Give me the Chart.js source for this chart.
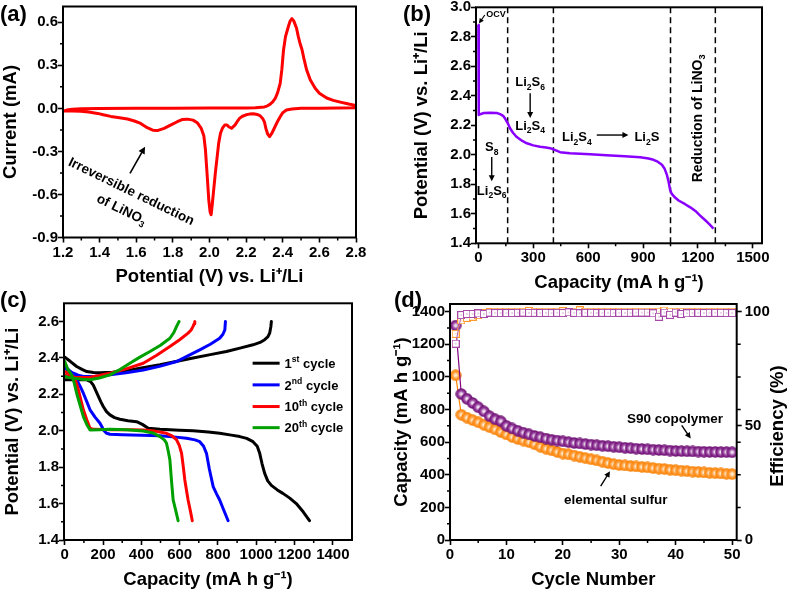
<!DOCTYPE html>
<html><head><meta charset="utf-8">
<script src="https://cdn.jsdelivr.net/npm/chart.js@4.4.1/dist/chart.umd.min.js"></script>
<style>
html,body{margin:0;padding:0;background:#fff;}
#wrap{position:relative;width:787px;height:592px;overflow:hidden;background:#fff;}
#wrap canvas{position:absolute;left:0;top:0;}
</style></head><body>
<div id="wrap">
<canvas id="ca" width="787" height="592"></canvas>
<canvas id="cb" width="787" height="592"></canvas>
<canvas id="cc" width="787" height="592"></canvas>
<canvas id="cd" width="787" height="592"></canvas>
</div>
<script>
// ---------- (a) cyclic voltammogram ----------
const cvPotential = [2.80,2.70,2.60,2.50,2.45,2.42,2.40,2.386,2.37,2.355,2.34,2.328,2.318,2.308,2.30,2.29,2.275,2.26,2.24,2.218,2.20,2.18,2.165,2.155,2.14,2.12,2.105,2.096,2.083,2.07,2.06,2.05,2.042,2.032,2.023,2.015,2.009,2.003,1.996,1.988,1.978,1.969,1.955,1.933,1.91,1.879,1.85,1.824,1.79,1.752,1.715,1.69,1.66,1.624,1.59,1.552,1.50,1.461,1.42,1.389,1.34,1.298,1.25,1.207,
  1.20,1.22,1.25,1.30,1.40,1.60,1.80,2.00,2.20,2.25,2.30,2.314,2.33,2.345,2.359,2.372,2.386,2.395,2.404,2.415,2.43,2.44,2.45,2.46,2.475,2.485,2.495,2.505,2.515,2.53,2.55,2.577,2.60,2.64,2.676,2.72,2.76,2.80];
const cvCurrent = [0.005,0.002,0.000,0.000,-0.004,-0.012,-0.03,-0.058,-0.095,-0.135,-0.175,-0.197,-0.18,-0.14,-0.095,-0.07,-0.05,-0.042,-0.038,-0.04,-0.045,-0.055,-0.068,-0.085,-0.115,-0.139,-0.128,-0.116,-0.116,-0.14,-0.174,-0.244,-0.336,-0.45,-0.567,-0.67,-0.741,-0.72,-0.637,-0.48,-0.29,-0.19,-0.14,-0.1,-0.082,-0.075,-0.078,-0.093,-0.115,-0.139,-0.155,-0.152,-0.135,-0.105,-0.088,-0.074,-0.064,-0.056,-0.045,-0.035,-0.026,-0.02,-0.018,-0.019,
  -0.02,-0.012,-0.006,-0.003,-0.001,0.000,0.001,0.002,0.003,0.005,0.01,0.016,0.028,0.045,0.069,0.11,0.174,0.27,0.405,0.5,0.567,0.608,0.625,0.61,0.56,0.5,0.45,0.41,0.35,0.27,0.2,0.14,0.105,0.072,0.056,0.042,0.03,0.02];
const aTicksX = [1.2,1.4,1.6,1.8,2.0,2.2,2.4,2.6,2.8];
const aTicksY = [-0.9,-0.6,-0.3,0.0,0.3,0.6];
const aMinorX = [1.3,1.5,1.7,1.9,2.1,2.3,2.5,2.7];
const aMinorY = [-0.75,-0.45,-0.15,0.15,0.45];

// ---------- (b) first discharge ----------
const bCapacity = [0,1,3,10,30,64,100,119,135,146,160,173,190,210,240,265,300,337,370,392,420,447,500,611,700,800,884,930,957,980,1003,1018,1030,1039,1048,1057,1075,1094,1130,1158,1190,1212,1240,1262,1285];
const bPotential = [2.88,2.50,2.27,2.275,2.283,2.285,2.283,2.276,2.264,2.246,2.215,2.18,2.148,2.12,2.094,2.078,2.064,2.055,2.05,2.045,2.032,2.018,2.01,2.003,1.997,1.99,1.984,1.975,1.966,1.953,1.932,1.905,1.865,1.82,1.762,1.735,1.71,1.69,1.665,1.644,1.615,1.588,1.556,1.53,1.50];
const bDivisions = [160,410,1050,1295];
const bTicksX = [0,300,600,900,1200,1500];
const bTicksY = [1.4,1.6,1.8,2.0,2.2,2.4,2.6,2.8,3.0];
const bMinorX = [150,450,750,1050,1350];
const bMinorY = [1.5,1.7,1.9,2.1,2.3,2.5,2.7,2.9];

// ---------- (c) charge / discharge profiles ----------
const c1DisCap = [0,20,60,115,135,149,162,175,188,201,218,236,260,288,330,375,405,436,497,600,670,750,809,870,914,950,983,1005,1018,1030,1044,1060,1079,1110,1139,1175,1209,1245,1278];
const c1DisV   = [2.28,2.28,2.282,2.28,2.27,2.25,2.22,2.19,2.16,2.133,2.105,2.087,2.072,2.063,2.055,2.05,2.035,2.014,2.008,2.003,2.0,1.993,1.986,1.976,1.968,1.958,1.94,1.915,1.876,1.82,1.766,1.725,1.70,1.675,1.656,1.63,1.60,1.555,1.506];
const c1ChgCap = [0,30,62,90,115,150,184,250,323,400,497,580,670,760,844,920,983,1020,1044,1060,1070,1076,1079];
const c1ChgV   = [2.404,2.38,2.353,2.337,2.325,2.32,2.318,2.322,2.33,2.345,2.362,2.38,2.40,2.418,2.435,2.455,2.472,2.485,2.50,2.515,2.536,2.57,2.6];
const c2DisCap = [0,20,45,62,80,97,115,132,158,184,205,219,236,300,400,497,580,636,680,705,725,740,755,775,792,809,830,853];
const c2DisV   = [2.35,2.335,2.31,2.28,2.245,2.206,2.16,2.115,2.075,2.041,2.0,1.986,1.981,1.978,1.975,1.972,1.965,1.959,1.95,1.94,1.915,1.876,1.79,1.693,1.655,1.62,1.565,1.506];
const c2ChgCap = [0,20,45,70,97,150,236,320,410,500,584,640,705,760,809,826,836,839];
const c2ChgV   = [2.343,2.33,2.316,2.305,2.298,2.298,2.307,2.318,2.334,2.355,2.38,2.41,2.444,2.475,2.508,2.53,2.554,2.6];
const c10DisCap = [0,20,45,58,71,84,97,115,132,149,250,350,410,470,531,560,584,598,610,618,627,636,644,655,666];
const c10DisV   = [2.325,2.315,2.298,2.27,2.225,2.17,2.115,2.06,2.014,2.008,2.006,2.005,2.004,1.998,1.986,1.972,1.95,1.92,1.876,1.81,1.73,1.67,1.62,1.565,1.506];
const c10ChgCap = [0,20,45,90,132,180,236,320,410,480,549,600,644,660,670,676,679];
const c10ChgV   = [2.307,2.3,2.294,2.292,2.294,2.303,2.316,2.34,2.371,2.415,2.463,2.5,2.536,2.553,2.573,2.588,2.6];
const c20DisCap = [0,15,36,50,62,80,97,115,132,180,236,320,410,460,497,520,531,540,549,557,566,580,592];
const c20DisV   = [2.38,2.34,2.307,2.26,2.206,2.14,2.078,2.035,2.004,2.006,2.008,2.005,1.999,1.988,1.968,1.95,1.932,1.89,1.84,1.73,1.62,1.56,1.506];
const c20ChgCap = [0,20,45,90,132,180,236,290,340,390,445,500,549,570,584,592,597];
const c20ChgV   = [2.298,2.293,2.289,2.283,2.28,2.29,2.307,2.338,2.371,2.403,2.435,2.47,2.508,2.54,2.573,2.59,2.6];
const cTicksX = [0,200,400,600,800,1000,1200,1400];
const cTicksY = [1.4,1.6,1.8,2.0,2.2,2.4,2.6];
const cMinorX = [100,300,500,700,900,1100,1300];
const cMinorY = [1.5,1.7,1.9,2.1,2.3,2.5];
const cLegend = ['1st cycle','2nd cycle','10th cycle','20th cycle'];

// ---------- (d) cycling ----------
const cycles = [1,2,3,4,5,6,7,8,9,10,11,12,13,14,15,16,17,18,19,20,21,22,23,24,25,26,27,28,29,30,31,32,33,34,35,36,37,38,39,40,41,42,43,44,45,46,47,48,49,50];
const s90Capacity = [1315,895,866,840,814,789,759,740,728,700,684,670,658,648,638,630,622,615,610,605,600,595,592,588,585,581,578,575,572,569,566,563,560,558,556,554,552,550,548,546,545,544,543,542,541,540,540,539,539,538];
const sulfurCapacity = [1010,768,750,735,722,707,692,678,662,647,632,620,610,600,587,572,560,550,540,530,525,518,510,502,495,488,480,472,465,460,457,454,451,448,445,441,438,435,431,428,425,422,419,417,414,412,410,408,406,404];
const s90Efficiency = [86,98.5,99,99,99.2,99,99.6,99.4,99.4,99.4,99.4,99.5,99.6,99.5,99.5,99.4,99.5,99.4,99.5,99.4,99.7,99.5,99.3,99.5,99.5,99.4,99.5,99.5,99.4,99.5,99.5,99.5,99.6,99.6,99.6,99.3,97.8,99.6,98.6,99.6,99.0,99.3,99.4,99.5,99.4,99.5,99.5,99.5,99.4,99.4];
const sulfurEfficiency = [90.3,96.2,97.3,97.8,98.5,99.2,99.8,100,100,100,100,100,100,100.3,100,100,100,100,100,100.2,100,100,100.6,100,100,100,100,100,100,100,100,100,100,100,100,100,100,100.5,100,100,100,100,100,100,100,100,100,100,100,100];
const dTicksX = [0,10,20,30,40,50];
const dTicksY = [0,200,400,600,800,1000,1200,1400];
const dTicksY1 = [0,50,100];
const dMinorX = [5,15,25,35,45];
const dMinorY = [100,300,500,700,900,1100,1300];

// ---------- helpers ----------
const FAM = "'Liberation Sans', Arial, Helvetica, sans-serif";
const TICK = 15, TITLE = 18.5;
Chart.defaults.font.family = FAM;
Chart.defaults.font.weight = 'bold';
Chart.defaults.color = '#000';
Chart.defaults.animation = false;
Chart.defaults.plugins.legend.display = false;
Chart.defaults.plugins.tooltip.enabled = false;
Chart.defaults.elements.point.radius = 0;

function pts(xs, ys){ return xs.map((x,i)=>({x:x, y:ys[i]})); }

function mkAxis(o){
  return {
    type:'linear', position:o.pos, min:o.min, max:o.max,
    afterBuildTicks: s => { s.ticks = o.ticks.map(v=>({value:v})); },
    afterFit: s => {
      if (o.pos==='bottom'){ s.height=o.size; s.paddingLeft=0; s.paddingRight=0; }
      else { s.width=o.size; s.paddingTop=0; s.paddingBottom=0; }
    },
    grid:{display:true, drawOnChartArea:false, drawTicks:true, tickLength:5, tickWidth:1.6, tickColor:'#000', color:'#000'},
    border:{display:false},
    ticks:{color:'#000', font:{size:TICK, weight:'bold'}, padding:(o.pad===undefined?1:o.pad), autoSkip:false, maxRotation:0, minRotation:0, callback:o.fmt},
    title:{display:o.title!==null, text:o.title||'', color:'#000', font:{size:TITLE, weight:'bold'}, padding:0}
  };
}
const f1 = v => v.toFixed(1);
const f0 = v => String(Math.round(v));

function rich(ctx, parts, x, y, size, opts){
  opts = opts || {};
  let total = 0; const meas = [];
  for (const p of parts){
    const t = p[0], m = p[1] || 'n';
    const fs = m==='n' ? size : size*0.66;
    ctx.font = `bold ${fs}px ${FAM}`;
    const w = ctx.measureText(t).width;
    meas.push([t,m,fs,w]); total += w;
  }
  ctx.save();
  ctx.translate(x,y);
  if (opts.rot) ctx.rotate(opts.rot);
  ctx.fillStyle = opts.color || '#000';
  ctx.textBaseline = 'alphabetic'; ctx.textAlign = 'left';
  let cx = opts.align==='left' ? 0 : -total/2;
  const base = size*0.36;
  for (const [t,m,fs,w] of meas){
    ctx.font = `bold ${fs}px ${FAM}`;
    const dy = m==='sub' ? size*0.25 : (m==='sup' ? -size*0.42 : 0);
    ctx.fillText(t, cx, base+dy);
    cx += w;
  }
  ctx.restore();
}
function arrow(ctx,x1,y1,x2,y2,hl,hw,lw){
  hl = hl||7; hw = hw||3.5; lw = lw||1.5;
  const a = Math.atan2(y2-y1,x2-x1), c=Math.cos(a), s=Math.sin(a);
  ctx.save(); ctx.strokeStyle='#000'; ctx.fillStyle='#000'; ctx.lineWidth=lw;
  ctx.beginPath(); ctx.moveTo(x1,y1); ctx.lineTo(x2-hl*0.8*c, y2-hl*0.8*s); ctx.stroke();
  ctx.beginPath(); ctx.moveTo(x2,y2);
  ctx.lineTo(x2-hl*c+hw*s, y2-hl*s-hw*c);
  ctx.lineTo(x2-hl*c-hw*s, y2-hl*s+hw*c);
  ctx.closePath(); ctx.fill(); ctx.restore();
}
function framePlugin(minors, letter){
  return {id:'frame', afterDraw(chart){
    const ctx = chart.ctx, a = chart.chartArea;
    ctx.save();
    ctx.strokeStyle='#000'; ctx.lineWidth=2;
    ctx.strokeRect(a.left, a.top, a.right-a.left, a.bottom-a.top);
    ctx.lineWidth=1.5; ctx.beginPath();
    for (const m of minors){
      const s = chart.scales[m.id];
      for (const v of m.vals){
        const p = s.getPixelForValue(v);
        if (m.side==='bottom'){ ctx.moveTo(p,a.bottom); ctx.lineTo(p,a.bottom+m.len); }
        else if (m.side==='left'){ ctx.moveTo(a.left-m.len,p); ctx.lineTo(a.left,p); }
        else { ctx.moveTo(a.right,p); ctx.lineTo(a.right+m.len,p); }
      }
    }
    ctx.stroke();
    ctx.fillStyle='#000'; ctx.font=`bold 22px ${FAM}`; ctx.textAlign='left'; ctx.textBaseline='middle';
    ctx.fillText(letter.t, letter.x, letter.y);
    ctx.restore();
  }};
}

// ---------- chart (a) ----------
new Chart(document.getElementById('ca'), {
  type:'scatter',
  data:{datasets:[{data:pts(cvPotential,cvCurrent), showLine:true, borderColor:'#ff0000', borderWidth:3, borderJoinStyle:'round', borderCapStyle:'round', pointRadius:0, tension:0}]},
  options:{responsive:false, animation:false,
    layout:{padding:{left:0, right:431, top:6.5, bottom:304.2}},
    scales:{
      x: mkAxis({pos:'bottom', min:1.2, max:2.8, ticks:aTicksX, fmt:f1, size:50.3, title:'Potential (V) vs. Li\u207A/Li'}),
      y: mkAxis({pos:'left', min:-0.9, max:0.71, ticks:aTicksY, fmt:f1, size:63, pad:0, title:'Current (mA)'})
    }
  },
  plugins:[framePlugin([{id:'x',vals:aMinorX,len:3,side:'bottom'},{id:'y',vals:aMinorY,len:3,side:'left'}],{t:'(a)',x:0,y:15}),
    {id:'annA', afterDraw(chart){
      const ctx=chart.ctx, X=v=>chart.scales.x.getPixelForValue(v), Y=v=>chart.scales.y.getPixelForValue(v);
      const rot = 26*Math.PI/180;
      rich(ctx, [['Irreversible reduction']], X(1.575), Y(-0.5745), 13.5, {rot:rot});
      rich(ctx, [['of LiNO'],['3','sub']], X(1.522), Y(-0.70), 13.5, {rot:rot});
      arrow(ctx, X(1.566), Y(-0.453), X(1.648), Y(-0.267), 7, 3.5, 1.6);
    }}]
});

// ---------- chart (b) ----------
const bSets = [{data:pts(bCapacity,bPotential), showLine:true, borderColor:'#8a00ff', borderWidth:2.5, borderJoinStyle:'round', pointRadius:0, tension:0}];
for (const d of bDivisions){
  bSets.push({data:[{x:d,y:1.4},{x:d,y:3.0}], showLine:true, borderColor:'#000', borderWidth:1.5, borderDash:[6,4], pointRadius:0});
}
new Chart(document.getElementById('cb'), {
  type:'scatter',
  data:{datasets:bSets},
  options:{responsive:false, animation:false,
    layout:{padding:{left:410.6, right:25, top:7.3, bottom:297.6}},
    scales:{
      x: mkAxis({pos:'bottom', min:-13, max:1550, ticks:bTicksX, fmt:f0, size:51.1, title:'Capacity (mA h g\u207B\u00B9)'}),
      y: mkAxis({pos:'left', min:1.4, max:3.0, ticks:bTicksY, fmt:f1, size:65.4, pad:0, title:'Potential (V) vs. Li\u207A/Li'})
    }
  },
  plugins:[framePlugin([{id:'x',vals:bMinorX,len:3,side:'bottom'},{id:'y',vals:bMinorY,len:3,side:'left'}],{t:'(b)',x:403,y:15}),
    {id:'annB', afterDraw(chart){
      const ctx=chart.ctx, X=v=>chart.scales.x.getPixelForValue(v), Y=v=>chart.scales.y.getPixelForValue(v);
      rich(ctx, [['OCV']], X(96), Y(2.955), 9);
      arrow(ctx, X(35), Y(2.948), X(3), Y(2.89), 5, 2.5, 1.2);
      rich(ctx, [['S'],['8','sub']], X(73), Y(2.055), 13);
      arrow(ctx, X(73), Y(1.985), X(73), Y(1.82), 6, 3, 1.4);
      rich(ctx, [['Li'],['2','sub'],['S'],['6','sub']], X(73), Y(1.761), 13);
      rich(ctx, [['Li'],['2','sub'],['S'],['6','sub']], X(283), Y(2.496), 13);
      arrow(ctx, X(283), Y(2.417), X(283), Y(2.25), 6, 3, 1.4);
      rich(ctx, [['Li'],['2','sub'],['S'],['4','sub']], X(283), Y(2.202), 13);
      rich(ctx, [['Li'],['2','sub'],['S'],['4','sub']], X(538), Y(2.123), 13);
      arrow(ctx, X(647), Y(2.134), X(820), Y(2.134), 6, 3, 1.4);
      rich(ctx, [['Li'],['2','sub'],['S']], X(921), Y(2.123), 13);
      rich(ctx, [['Reduction of LiNO'],['3','sub']], X(1194), Y(2.247), 14, {rot:-Math.PI/2});
    }}]
});

// ---------- chart (c) ----------
const cColors = ['#000000','#0000ff','#ff0000','#00a000'];
function cSet(xs,ys,c){ return {data:pts(xs,ys), showLine:true, borderColor:c, borderWidth:3, borderJoinStyle:'round', borderCapStyle:'round', pointRadius:0, tension:0}; }
new Chart(document.getElementById('cc'), {
  type:'scatter',
  data:{datasets:[
    cSet(c20DisCap,c20DisV,cColors[3]), cSet(c20ChgCap,c20ChgV,cColors[3]),
    cSet(c10DisCap,c10DisV,cColors[2]), cSet(c10ChgCap,c10ChgV,cColors[2]),
    cSet(c2DisCap,c2DisV,cColors[1]), cSet(c2ChgCap,c2ChgV,cColors[1]),
    cSet(c1DisCap,c1DisV,cColors[0]), cSet(c1ChgCap,c1ChgV,cColors[0])
  ]},
  options:{responsive:false, animation:false,
    layout:{padding:{left:2.2, right:435, top:303.3, bottom:0.9}},
    scales:{
      x: mkAxis({pos:'bottom', min:-4, max:1500, ticks:cTicksX, fmt:f0, size:51.1, title:'Capacity (mA h g\u207B\u00B9)'}),
      y: mkAxis({pos:'left', min:1.4, max:2.7, ticks:cTicksY, fmt:f1, size:61.8, pad:0, title:'Potential (V) vs. Li\u207A/Li'})
    }
  },
  plugins:[framePlugin([{id:'x',vals:cMinorX,len:3,side:'bottom'},{id:'y',vals:cMinorY,len:3,side:'left'}],{t:'(c)',x:0,y:301}),
    {id:'legC', afterDraw(chart){
      const ctx=chart.ctx, X=v=>chart.scales.x.getPixelForValue(v), Y=v=>chart.scales.y.getPixelForValue(v);
      const ys=[2.371,2.252,2.133,2.017];
      cLegend.forEach((lab,i)=>{
        ctx.save(); ctx.strokeStyle=cColors[i]; ctx.lineWidth=3;
        ctx.beginPath(); ctx.moveTo(X(981),Y(ys[i])); ctx.lineTo(X(1122),Y(ys[i])); ctx.stroke(); ctx.restore();
        const m = lab.match(/^(\d+)(st|nd|rd|th) (.*)$/);
        rich(ctx, [[m[1]],[m[2],'sup'],[' '+m[3]]], X(1148), Y(ys[i]), 13, {align:'left'});
      });
    }}]
});

// ---------- chart (d) ----------
function ball(stops){
  const cv=document.createElement('canvas'); cv.width=cv.height=12;
  const g=cv.getContext('2d'); const gr=g.createRadialGradient(6,6,0,6,6,5.8);
  stops.forEach(s=>gr.addColorStop(s[0],s[1]));
  g.fillStyle=gr; g.beginPath(); g.arc(6,6,5.7,0,Math.PI*2); g.fill(); return cv;
}
function square(col){
  const cv=document.createElement('canvas'); cv.width=cv.height=8;
  const g=cv.getContext('2d'); g.fillStyle='#fff'; g.fillRect(0.5,0.5,7,7);
  g.strokeStyle=col; g.lineWidth=1; g.strokeRect(0.5,0.5,7,7);
  g.fillStyle=col; g.fillRect(3.5,3.5,1,1); return cv;
}
const ballP = ball([[0,'#ffffff'],[0.22,'#e6cce6'],[0.5,'#a050a8'],[0.8,'#7a1a80'],[1,'#650a6a']]);
const ballO = ball([[0,'#fffaf0'],[0.22,'#ffe0b8'],[0.5,'#ffa448'],[0.8,'#ff8a10'],[1,'#f07a00']]);
const sqP = square('#a848a8');
const sqO = square('#ff9a30');
new Chart(document.getElementById('cd'), {
  type:'scatter',
  data:{datasets:[
    {data:pts(cycles,s90Efficiency), yAxisID:'y1', showLine:true, borderColor:'#b060b0', borderWidth:1, pointStyle:sqP, pointRadius:4},
    {data:pts(cycles,sulfurEfficiency), yAxisID:'y1', showLine:true, borderColor:'#ff9a30', borderWidth:1, pointStyle:sqO, pointRadius:4},
    {data:pts(cycles,s90Capacity), yAxisID:'y', showLine:true, borderColor:'#800080', borderWidth:1.2, pointStyle:ballP, pointRadius:5.5},
    {data:pts(cycles,sulfurCapacity), yAxisID:'y', showLine:true, borderColor:'#ff8000', borderWidth:1.2, pointStyle:ballO, pointRadius:5.5}
  ]},
  options:{responsive:false, animation:false,
    layout:{padding:{left:390.9, right:0.4, top:304, bottom:0.9}},
    scales:{
      x: mkAxis({pos:'bottom', min:0, max:50.8, ticks:dTicksX, fmt:f0, size:51.1, title:'Cycle Number'}),
      y: mkAxis({pos:'left', min:0, max:1447, ticks:dTicksY, fmt:f0, size:59.1, pad:0, title:'Capacity (mA h g\u207B\u00B9)'}),
      y1: mkAxis({pos:'right', min:0, max:103.36, ticks:dTicksY1, fmt:f0, size:49.9, pad:3, title:null})
    }
  },
  plugins:[framePlugin([{id:'x',vals:dMinorX,len:3,side:'bottom'},{id:'y',vals:dMinorY,len:3,side:'left'},{id:'y',vals:[200,400,600,800,1000,1200],len:4,side:'right'}],{t:'(d)',x:394,y:301}),
    {id:'annD', afterDraw(chart){
      const ctx=chart.ctx, X=v=>chart.scales.x.getPixelForValue(v), Y=v=>chart.scales.y.getPixelForValue(v);
      const a = chart.chartArea;
      rich(ctx, [['Efficiency (%)']], 776, (a.top+a.bottom)/2 + 4, TITLE, {rot:-Math.PI/2});
      rich(ctx, [['S90 copolymer']], X(39.87), Y(750), 13.5);
      arrow(ctx, X(41.06), Y(703), X(42.65), Y(622), 6, 3, 1.4);
      rich(ctx, [['elemental sulfur']], X(29.38), Y(253), 13.5);
      arrow(ctx, X(26.7), Y(330), X(28.35), Y(422), 6, 3, 1.4);
    }}]
});
</script>
</body></html>
